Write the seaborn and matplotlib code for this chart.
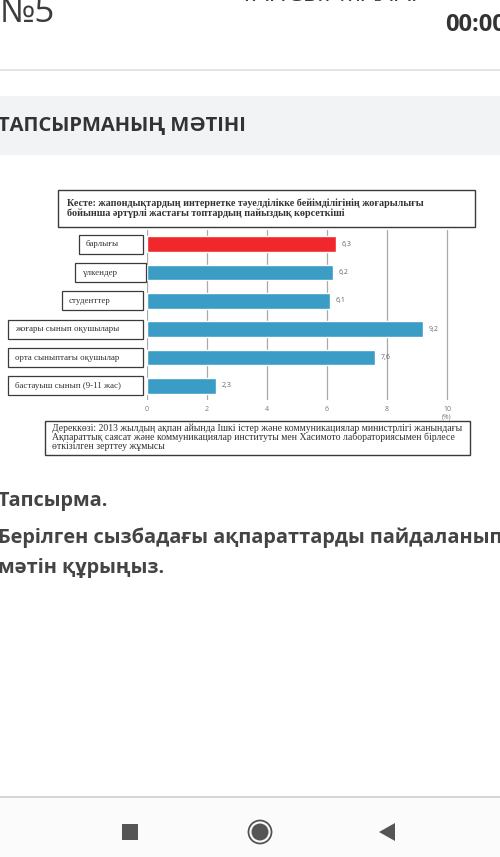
import matplotlib
matplotlib.use("Agg")
import matplotlib.pyplot as plt
import matplotlib.transforms as mtransforms
from matplotlib.patches import Rectangle, Circle, Polygon
import seaborn as sns

# chart data
categories = ["барлығы", "үлкендер", "студенттер", "жоғары сынып оқушылары",
              "орта сыныптағы оқушылар", "бастауыш сынып (9-11 жас)"]
values = [6.3, 6.2, 6.1, 9.2, 7.6, 2.3]
value_labels = ["6,3", "6,2", "6,1", "9,2", "7,6", "2,3"]
bar_colors = ["#f0282c", "#3b9cc5", "#3b9cc5", "#3b9cc5", "#3b9cc5", "#3b9cc5"]
x_ticks = [0, 2, 4, 6, 8, 10]

title_lines = ["Кесте: жапондықтардың интернетке тәуелділікке бейімділігінің жоғарылығы",
               "бойынша әртүрлі жастағы топтардың пайыздық көрсеткіші"]
source_lines = ["Дереккөзі: 2013 жылдың ақпан айында Ішкі істер және коммуникациялар министрлігі жанындағы",
                "Ақпараттық саясат және коммуникациялар институты мен Хасимото лабораториясымен бірлесе",
                "өткізілген зерттеу жұмысы"]

# left edge of each label box (pixels)
box_left = [79, 75, 62, 8, 8, 8]

W, H = 500, 857
SANS = ["Open Sans", "DejaVu Sans"]
SERIF = ["Liberation Serif", "DejaVu Serif"]

sns.set_theme(style="white")
plt.rcParams["font.family"] = SANS

fig = plt.figure(figsize=(W / 100, H / 100), dpi=100)
fig.patch.set_facecolor("white")

# background axes in pixel units for the app chrome
bg = fig.add_axes([0, 0, 1, 1], zorder=-5)
bg.set_xlim(0, W)
bg.set_ylim(H, 0)
bg.axis("off")


def prect(x0, y0, x1, y1, **kw):
    bg.add_patch(Rectangle((x0, y0), x1 - x0, y1 - y0, **kw))


# ---------------- app chrome ----------------
bg.text(0, 13, "№5", fontsize=25, color="#3c3c3c", va="center", ha="left")
bg.text(240, -6, "ТАПСЫРМАЛАР", fontsize=18, color="#3c3c3c", va="center", ha="left")
bg.text(445, 25, "00:00", fontsize=17, fontweight="bold", color="#333333",
        va="center", ha="left")
prect(0, 69, 500, 71, color="#e4e4e4", lw=0)

prect(0, 96, 500, 155, color="#f2f3f5", lw=0)
bg.text(-2, 126, "ТАПСЫРМАНЫҢ МӘТІНІ", fontsize=14.5, fontweight="bold",
        color="#333333", va="center", ha="left")

bg.text(-2, 501, "Тапсырма.", fontsize=14.3, fontweight="bold", color="#444444",
        va="center", ha="left")
bg.text(-2, 538, "Берілген сызбадағы ақпараттарды пайдаланып", fontsize=14.3,
        fontweight="bold", color="#444444", va="center", ha="left")
bg.text(-2, 568, "мәтін құрыңыз.", fontsize=14.3, fontweight="bold", color="#444444",
        va="center", ha="left")

prect(0, 796, 500, 798, color="#d6d6d6", lw=0)
prect(0, 798, 500, 857, color="#fbfbfb", lw=0)
prect(122, 824, 138, 840, color="#555555", lw=0)
bg.add_patch(Circle((260, 832), 11.5, facecolor="none", edgecolor="#555555", lw=1.3))
bg.add_patch(Circle((260, 832), 8.5, facecolor="#555555", lw=0))
bg.add_patch(Polygon([(379, 832), (395, 823), (395, 841)], closed=True,
                     color="#555555", lw=0))

# title box and source box
prect(58, 190, 475, 227, facecolor="white", edgecolor="#3a3a3a", lw=1.0)
bg.text(67, 208, "\n".join(title_lines), fontsize=7.3, fontweight="bold",
        color="#333333", family=SERIF, va="center", ha="left", linespacing=1.0)
prect(45, 421, 470, 455, facecolor="white", edgecolor="#3a3a3a", lw=1.0)
bg.text(52, 437.5, "\n".join(source_lines), fontsize=7.0, color="#333333",
        family=SERIF, va="center", ha="left", linespacing=0.98)

# ---------------- chart ----------------
x0_px, unit_px = 147, 30
xmax = 10.6
ax_top, ax_bot = 230, 400
ax = fig.add_axes([x0_px / W, 1 - ax_bot / H, xmax * unit_px / W, (ax_bot - ax_top) / H])
ax.set_facecolor("none")

sns.barplot(x=values, y=categories, hue=categories, palette=bar_colors, legend=False,
            orient="h", width=0.56, saturation=1, ax=ax, zorder=3)

ax.set_xlim(0, xmax)
ax.set_ylim(len(categories) - 0.5, -0.5)
ax.set_xticks(x_ticks)
ax.set_xticklabels([str(t) for t in x_ticks], fontsize=5, color="#777777",
                   family=SANS)
ax.tick_params(axis="x", length=0, pad=4)
ax.set_yticks([])
ax.set_xlabel("")
ax.set_ylabel("")
for s in ax.spines.values():
    s.set_visible(False)
ax.grid(axis="x", color="#a8a8a8", lw=0.9, zorder=0)
ax.grid(axis="y", visible=False)

ax.annotate("(%)", xy=(10, 0), xycoords=("data", "axes fraction"), xytext=(0, -9.5),
            textcoords="offset points", ha="center", va="top", fontsize=4.8,
            color="#777777")

for i, (v, lab) in enumerate(zip(values, value_labels)):
    ax.annotate(lab, xy=(v, i), xytext=(4, 0), textcoords="offset points",
                ha="left", va="center", fontsize=5, color="#666666")

# category label boxes
blend = mtransforms.blended_transform_factory(fig.transFigure, ax.transData)
box_h = 0.68
for i, cat in enumerate(categories):
    right = 146 if i == 1 else 143
    ax.add_patch(Rectangle((box_left[i] / W, i - box_h / 2), (right - box_left[i]) / W, box_h,
                           transform=blend, facecolor="white", edgecolor="#3a3a3a",
                           lw=0.9, clip_on=False, zorder=4))
    ax.text((box_left[i] + 7) / W, i, cat, transform=blend, ha="left", va="center",
            fontsize=6.4, color="#333333", family=SERIF, zorder=5, clip_on=False)

fig.savefig("out.png", dpi=100)
